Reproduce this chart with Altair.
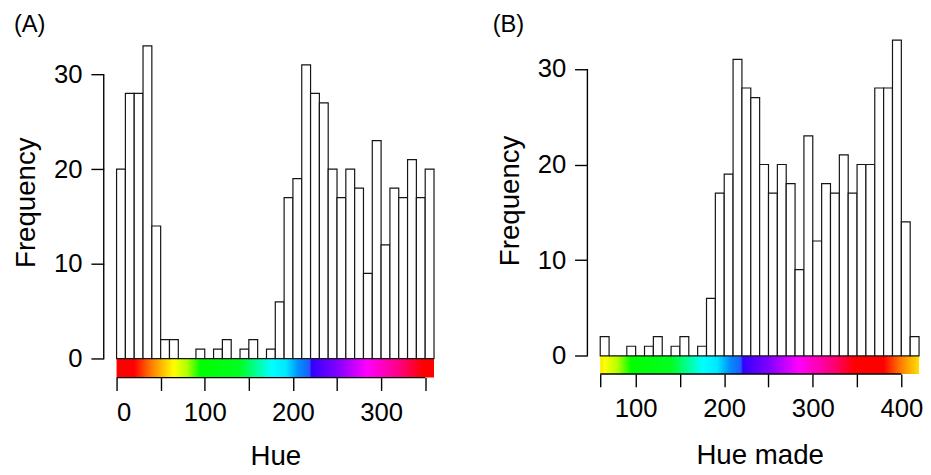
import altair as alt
import pandas as pd

# ---- data ----
counts_a = [20, 28, 28, 33, 14, 2, 2, 0, 0, 1, 0, 1, 2, 0, 1, 2, 0, 1,
            6, 17, 19, 31, 28, 27, 20, 17, 20, 18, 9, 23, 12, 18, 17, 21, 17, 20]
counts_b = [2, 0, 0, 1, 0, 1, 2, 0, 1, 2, 0, 1, 6, 17, 19, 31, 28, 27,
            20, 17, 20, 18, 9, 23, 12, 18, 17, 21, 17, 20, 20, 28, 28, 33, 14, 2]
bin_width = 10
start_a = 0
start_b = 60
xticks_a = [0, 50, 100, 150, 200, 250, 300, 350]
xticks_b = [60, 100, 150, 200, 250, 300, 350, 400]
yticks = [0, 10, 20, 30]

# hue -> colour of the colour strip
grad_hues = [0, 20, 40, 65, 80, 95, 140, 160, 176, 192, 206, 219, 221, 250, 284, 321, 347, 360]
grad_colors = ["#FF0000", "#FF0000", "#FF8000", "#FFFF00", "#B0FF00", "#00FF00", "#00FF20",
               "#00FFA0", "#00FFFF", "#00E8FF", "#0090FF", "#1E5CFF", "#3300FF", "#8000FF",
               "#FF00FF", "#FF0080", "#FF0000", "#FF0000"]

FONT = "Liberation Sans"
LW = 1.4
AXIS_OFFSET = 13


def stops_for(start):
    pts = []
    for h, c in zip(grad_hues, grad_colors):
        hh = h if h >= start else h + 360
        if start <= hh <= start + 360:
            pts.append((hh, c))
    if start != 0:
        pts.append((start, "#FFE600"))
        pts.append((start + 360, "#FFE000"))
    pts = sorted(pts, key=lambda p: p[0])
    return [alt.GradientStop(color=c, offset=(h - start) / 360.0) for h, c in pts]


def panel(counts, start, xticks, xtitle, xtitle_pad, label, label_x, ymin, ymax, width, height):
    df = pd.DataFrame({
        "lo": [start + i * bin_width for i in range(len(counts))],
        "count": counts,
    })
    df["hi"] = df["lo"] + bin_width
    xs = alt.Scale(domain=[start, start + 360], nice=False, zero=False)
    ys = alt.Scale(domain=[ymin, ymax], nice=False, zero=False)
    xaxis = alt.Axis(values=xticks, title=xtitle, titlePadding=xtitle_pad,
                     labelExpr="datum.value % 100 == 0 ? datum.label : ''")
    yaxis = alt.Axis(values=yticks, title="Frequency", offset=AXIS_OFFSET)

    # colour strip under the histogram
    strip_df = pd.DataFrame({"x0": [start], "x1": [start + 360], "y0": [ymin], "y1": [0]})
    strip = alt.Chart(strip_df).mark_rect(
        fill=alt.Gradient(gradient="linear", stops=stops_for(start),
                          x1=0, x2=1, y1=0, y2=0),
        strokeWidth=0,
    ).encode(
        x=alt.X("x0:Q", scale=xs, axis=xaxis),
        x2="x1:Q",
        y=alt.Y("y0:Q", scale=ys, axis=yaxis),
        y2="y1:Q",
    )

    bars = alt.Chart(df).mark_rect(
        fill="white", stroke="#151515", strokeWidth=1.2
    ).encode(
        x=alt.X("lo:Q", scale=xs),
        x2="hi:Q",
        y=alt.Y("count:Q", scale=ys),
        y2=alt.Y2(datum=0),
    )

    # R-style axis lines that only span the tick range
    x_axis_pos = start - AXIS_OFFSET * 360.0 / width
    seg_df = pd.DataFrame({
        "x0": [x_axis_pos, xticks[0]],
        "x1": [x_axis_pos, xticks[-1]],
        "y0": [yticks[0], ymin],
        "y1": [yticks[-1], ymin],
    })
    lines = alt.Chart(seg_df).mark_rule(color="black", strokeWidth=LW).encode(
        x=alt.X("x0:Q", scale=xs),
        x2="x1:Q",
        y=alt.Y("y0:Q", scale=ys),
        y2="y1:Q",
    )

    tag = alt.Chart(alt.Data(values=[{"k": 1}])).mark_text(
        text=label, align="left", baseline="middle", fontSize=24, font=FONT, color="black"
    ).encode(x=alt.value(label_x), y=alt.value(-1.5))

    return alt.layer(strip, bars, lines, tag).properties(width=width, height=height)


panel_a = panel(counts_a, start_a, xticks_a, "Hue", 18, "(A)", -104,
                -2.0, 35.02, 321.6, 355.4)
panel_b = panel(counts_b, start_b, xticks_b, "Hue made", 21, "(B)", -109,
                -1.9, 34.4, 323, 351.7)

chart = alt.hconcat(panel_a, panel_b, spacing=58).configure(
    padding={"left": 5, "top": 2, "right": 0, "bottom": 0},
    font=FONT,
).configure_view(stroke=None).configure_axis(
    domain=False, grid=False,
    tickColor="black", tickWidth=LW, tickSize=13,
    labelFont=FONT, labelFontSize=26, labelColor="black", labelPadding=9,
    titleFont=FONT, titleFontSize=28, titleFontWeight="normal", titleColor="black",
).configure_axisY(titlePadding=13).configure_axisX(labelPadding=9)

chart.save("out.html", embed_options={"renderer": "svg", "actions": False})
